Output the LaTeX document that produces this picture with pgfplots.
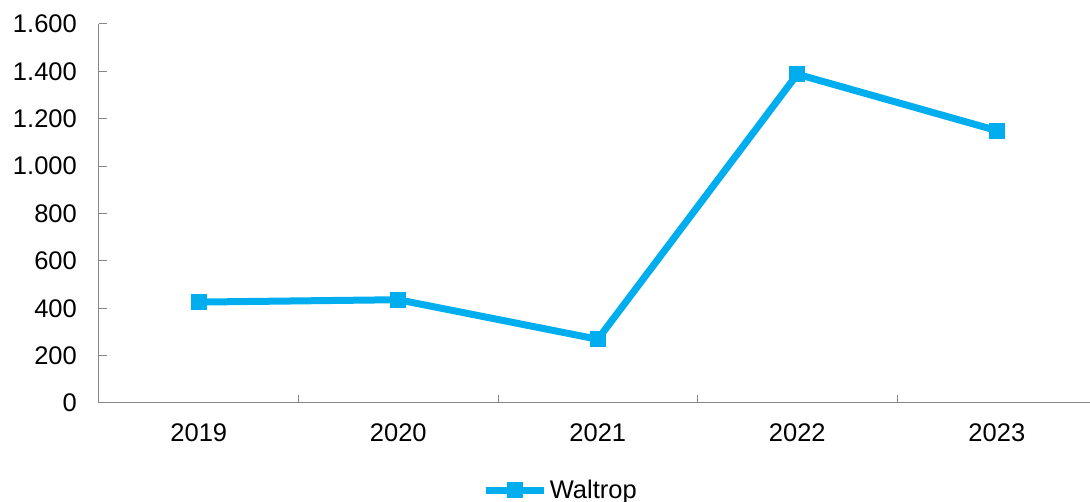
\documentclass[border=0pt]{standalone}
\usepackage{pgfplots}
\pgfplotsset{compat=1.18}
\usepackage{fontspec}
\setmainfont{Liberation Sans}
\definecolor{lineblue}{RGB}{0,174,239}
\definecolor{axgray}{RGB}{134,134,134}
\begin{document}
\begin{tikzpicture}
\begin{axis}[
  name=ax, at={(0pt,0pt)}, anchor=south west,
  scale only axis, width=991pt, height=379pt,
  xmin=-0.5, xmax=4.467, ymin=0, ymax=1600,
  axis x line=bottom, axis y line=left,
  axis line style={-, draw=axgray, line width=1pt},
  tick align=inside, major tick length=8pt,
  every tick/.style={draw=axgray, line width=1pt},
  xtick={0.5,1.5,2.5,3.5}, xticklabels={},
  extra x ticks={0,1,2,3,4}, extra x tick labels={2019,2020,2021,2022,2023},
  extra x tick style={major tick length=0pt},
  ytick={0,200,...,1600},
  /pgf/number format/.cd, 1000 sep={.}, assume math mode=true, /pgfplots/.cd,
  ticklabel style={font=\fontsize{25.5}{30}\selectfont, inner sep=0pt},
  yticklabel style={xshift=-22pt},
  xticklabel style={yshift=-20pt},
  legend style={at={(rel axis cs:0.466,-0.2296)}, anchor=center, draw=none,
    font=\fontsize{25.5}{30}\selectfont, inner sep=0pt,
    /tikz/every even column/.append style={column sep=0pt}},
  legend cell align=left,
  legend image code/.code={\draw[#1, mark repeat=2, mark phase=2] plot coordinates {(0pt,0pt) (29pt,0pt) (58pt,0pt)};},
  clip=false,
]
\addplot[lineblue, line width=7pt, mark=square*, mark size=7.5pt,
  mark options={line width=0pt, fill=lineblue, draw=lineblue}]
  coordinates {(0,426) (1,436) (2,269) (3,1388) (4,1150)};
\addlegendentry{Waltrop}
\end{axis}
\pgfresetboundingbox
\path (-99pt,-99pt) rectangle (991pt,403pt);
\end{tikzpicture}
\end{document}
